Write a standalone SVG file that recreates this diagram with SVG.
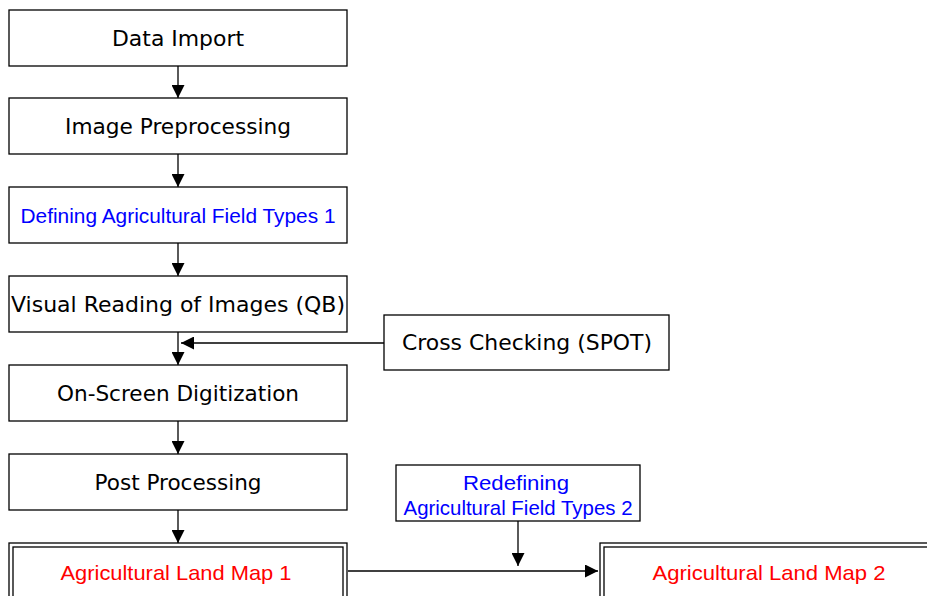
<svg xmlns="http://www.w3.org/2000/svg" width="927" height="596" viewBox="0 0 927 596">
  <defs>
    <marker id="arrow" viewBox="0 0 10 10" refX="10" refY="5" markerWidth="13" markerHeight="13" markerUnits="userSpaceOnUse" orient="auto">
      <path d="M0,0 L10,5 L0,10 Z" fill="#000"/>
    </marker>
    <style>
      .box { fill: #fff; stroke: #000; stroke-width: 1.3; }
      .dbl { fill: none; stroke: #000; stroke-width: 1.3; }
      text { text-anchor: middle; }
      .lbl { font-family: "DejaVu Sans", Verdana, sans-serif; font-size: 21px; fill: #000; }
      .blue { font-family: "Liberation Sans", Arial, sans-serif; font-size: 21px; fill: #0000ff; }
      .red { font-family: "Liberation Sans", Arial, sans-serif; font-size: 21px; fill: #ff0000; }
      .conn { stroke: #000; stroke-width: 1.3; fill: none; marker-end: url(#arrow); }
    </style>
  </defs>
  <rect width="927" height="596" fill="#fff"/>

  <g id="connectors">
    <line class="conn" x1="178" y1="66" x2="178" y2="98"/>
    <line class="conn" x1="178" y1="154" x2="178" y2="187"/>
    <line class="conn" x1="178" y1="243" x2="178" y2="276"/>
    <line class="conn" x1="178" y1="332" x2="178" y2="365"/>
    <line class="conn" x1="384" y1="343" x2="181" y2="343"/>
    <line class="conn" x1="178" y1="421" x2="178" y2="454"/>
    <line class="conn" x1="178" y1="510" x2="178" y2="543"/>
    <line class="conn" x1="518" y1="521" x2="518" y2="566"/>
    <line class="conn" x1="348" y1="571" x2="598" y2="571"/>
  </g>

  <g id="data-import">
    <rect class="box" x="9" y="10" width="338" height="56"/>
    <text class="lbl" x="178" y="46" textLength="132" lengthAdjust="spacingAndGlyphs">Data Import</text>
  </g>
  <g id="image-preprocessing">
    <rect class="box" x="9" y="98" width="338" height="56"/>
    <text class="lbl" x="178" y="134" textLength="226" lengthAdjust="spacingAndGlyphs">Image Preprocessing</text>
  </g>
  <g id="defining-types-1">
    <rect class="box" x="9" y="187" width="338" height="56"/>
    <text class="blue" x="178" y="223" textLength="315" lengthAdjust="spacingAndGlyphs">Defining Agricultural Field Types 1</text>
  </g>
  <g id="visual-reading">
    <rect class="box" x="9" y="276" width="338" height="56"/>
    <text class="lbl" x="178" y="312" textLength="334" lengthAdjust="spacingAndGlyphs">Visual Reading of Images (QB)</text>
  </g>
  <g id="cross-checking">
    <rect class="box" x="384" y="315" width="285" height="55"/>
    <text class="lbl" x="527" y="350" textLength="250" lengthAdjust="spacingAndGlyphs">Cross Checking (SPOT)</text>
  </g>
  <g id="digitization">
    <rect class="box" x="9" y="365" width="338" height="56"/>
    <text class="lbl" x="178" y="401" textLength="242" lengthAdjust="spacingAndGlyphs">On-Screen Digitization</text>
  </g>
  <g id="post-processing">
    <rect class="box" x="9" y="454" width="338" height="56"/>
    <text class="lbl" x="178" y="490" textLength="167" lengthAdjust="spacingAndGlyphs">Post Processing</text>
  </g>
  <g id="redefining-types-2">
    <rect class="box" x="396" y="465" width="244" height="56"/>
    <text class="blue" x="516" y="490" textLength="106" lengthAdjust="spacingAndGlyphs">Redefining</text>
    <text class="blue" x="518" y="515" textLength="229" lengthAdjust="spacingAndGlyphs">Agricultural Field Types 2</text>
  </g>
  <g id="land-map-1">
    <rect class="box" x="9" y="543" width="338" height="60"/>
    <rect class="dbl" x="13" y="547" width="330" height="60"/>
    <text class="red" x="176" y="580" textLength="231" lengthAdjust="spacingAndGlyphs">Agricultural Land Map 1</text>
  </g>
  <g id="land-map-2">
    <rect class="box" x="600" y="543" width="340" height="60"/>
    <rect class="dbl" x="604" y="547" width="332" height="60"/>
    <text class="red" x="769" y="580" textLength="233" lengthAdjust="spacingAndGlyphs">Agricultural Land Map 2</text>
  </g>
</svg>
